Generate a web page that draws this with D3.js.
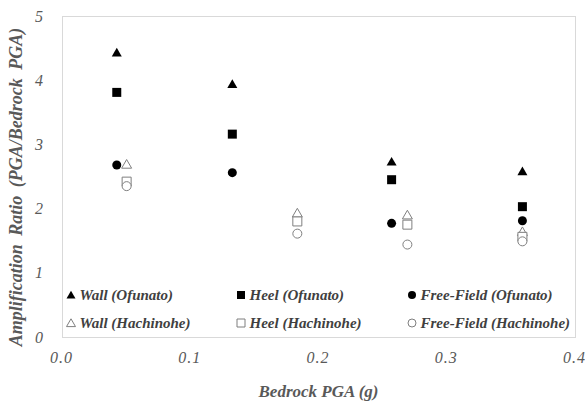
<!DOCTYPE html>
<html>
<head>
<meta charset="utf-8">
<script src="https://cdn.jsdelivr.net/npm/d3@7/dist/d3.min.js"></script>
</head>
<body style="margin:0">
<svg id="chart" width="585" height="404"></svg>
<script>
// Bedrock PGA (g) for each shaking level
const pgaOfunato   = [0.0427, 0.1328, 0.2570, 0.3590];
const pgaHachinohe = [0.0504, 0.1835, 0.2693, 0.3590];

// Amplification ratios (PGA / bedrock PGA)
const wallOfunato     = [4.43, 3.94, 2.73, 2.58];
const heelOfunato     = [3.81, 3.16, 2.45, 2.03];
const freeOfunato     = [2.68, 2.56, 1.77, 1.81];
const wallHachinohe   = [2.69, 1.93, 1.90, 1.64];
const heelHachinohe   = [2.42, 1.80, 1.75, 1.56];
const freeHachinohe   = [2.35, 1.61, 1.44, 1.49];

const xTicks = [0, 0.1, 0.2, 0.3, 0.4];
const yTicks = [0, 1, 2, 3, 4, 5];

const series = [
  { name: "Wall (Ofunato)",          x: pgaOfunato,   y: wallOfunato,   shape: d3.symbolTriangle, filled: true },
  { name: "Heel (Ofunato)",          x: pgaOfunato,   y: heelOfunato,   shape: d3.symbolSquare,   filled: true },
  { name: "Free-Field (Ofunato)",    x: pgaOfunato,   y: freeOfunato,   shape: d3.symbolCircle,   filled: true },
  { name: "Wall (Hachinohe)",        x: pgaHachinohe, y: wallHachinohe, shape: d3.symbolTriangle, filled: false },
  { name: "Heel (Hachinohe)",        x: pgaHachinohe, y: heelHachinohe, shape: d3.symbolSquare,   filled: false },
  { name: "Free-Field (Hachinohe)",  x: pgaHachinohe, y: freeHachinohe, shape: d3.symbolCircle,   filled: false }
];

const SERIF = '"Liberation Serif"';

const svg = d3.select("#chart");
const plot = { left: 62, right: 575, top: 16, bottom: 337 };

const x = d3.scaleLinear().domain([0, 0.4]).range([plot.left, plot.right]);
const y = d3.scaleLinear().domain([0, 5]).range([plot.bottom, plot.top]);

// symbol areas for a given pixel width
function symSize(shape, w) {
  if (shape === d3.symbolSquare) return w * w;
  if (shape === d3.symbolCircle) return Math.PI * (w / 2) * (w / 2);
  return Math.sqrt(3) / 4 * w * w;
}

// serif italic text helper
function serif(sel, size, bold, color) {
  return sel.style("font-family", SERIF)
    .style("font-style", "italic")
    .style("font-weight", bold ? "bold" : "normal")
    .style("font-size", size + "px")
    .style("fill", color);
}

// plot-area frame
svg.append("rect")
  .attr("x", plot.left + 0.5).attr("y", plot.top + 0.5)
  .attr("width", plot.right - plot.left).attr("height", plot.bottom - plot.top)
  .attr("fill", "#fff").attr("stroke", "#d9d9d9").attr("stroke-width", 1);

// x axis labels
const xAxis = d3.axisBottom(x).tickValues(xTicks).tickFormat(d3.format(".1f")).tickSize(0).tickPadding(0);
svg.append("g")
  .attr("transform", `translate(-1, ${plot.bottom + 26})`)
  .call(xAxis)
  .call(g => g.select(".domain").remove())
  .call(g => serif(g.selectAll("text").attr("dy", 0), 16, false, "#595959")
    .style("letter-spacing", "1px"));

// y axis labels
const yAxis = d3.axisLeft(y).tickValues(yTicks).tickFormat(d3.format("d")).tickSize(0).tickPadding(0);
svg.append("g")
  .attr("transform", `translate(${plot.left - 19}, 0)`)
  .call(yAxis)
  .call(g => g.select(".domain").remove())
  .call(g => serif(g.selectAll("text"), 16, false, "#595959"));

// markers
series.forEach(s => {
  const w = s.shape === d3.symbolTriangle ? 10 : 9;
  svg.append("g").selectAll("path")
    .data(s.x.map((v, i) => [v, s.y[i]]))
    .join("path")
    .attr("transform", d => `translate(${x(d[0])}, ${y(d[1]) + (s.shape === d3.symbolTriangle ? 1 : 0)})`)
    .attr("d", d3.symbol().type(s.shape).size(symSize(s.shape, w)))
    .attr("fill", s.filled ? "#000" : "#fff")
    .attr("stroke", s.filled ? "none" : "#7f7f7f")
    .attr("stroke-width", 1);
});

// legend, three columns by two rows
const legendCols = [71, 241, 412];
const legendRows = [295, 323];
const legend = svg.append("g");
series.forEach((s, i) => {
  const cx = legendCols[i % 3];
  const cy = legendRows[Math.floor(i / 3)];
  const w = s.shape === d3.symbolTriangle ? 9 : 8;
  legend.append("path")
    .attr("transform", `translate(${cx}, ${cy + (s.shape === d3.symbolTriangle ? 1 : 0)})`)
    .attr("d", d3.symbol().type(s.shape).size(symSize(s.shape, w)))
    .attr("fill", s.filled ? "#000" : "#fff")
    .attr("stroke", s.filled ? "none" : "#7f7f7f");
  serif(legend.append("text"), 15, true, "#404040")
    .attr("x", cx + 8.5).attr("y", cy + 5)
    .text(s.name);
});

// axis titles
serif(svg.append("text"), 17, true, "#595959")
  .attr("x", (plot.left + plot.right) / 2).attr("y", 397)
  .attr("text-anchor", "middle")
  .text("Bedrock PGA (g)");

serif(svg.append("text"), 18, true, "#595959")
  .attr("transform", "translate(22, 187) rotate(-90)")
  .attr("text-anchor", "middle")
  .style("word-spacing", "4px")
  .text("Amplification Ratio (PGA/Bedrock PGA)");
</script>
</body>
</html>
